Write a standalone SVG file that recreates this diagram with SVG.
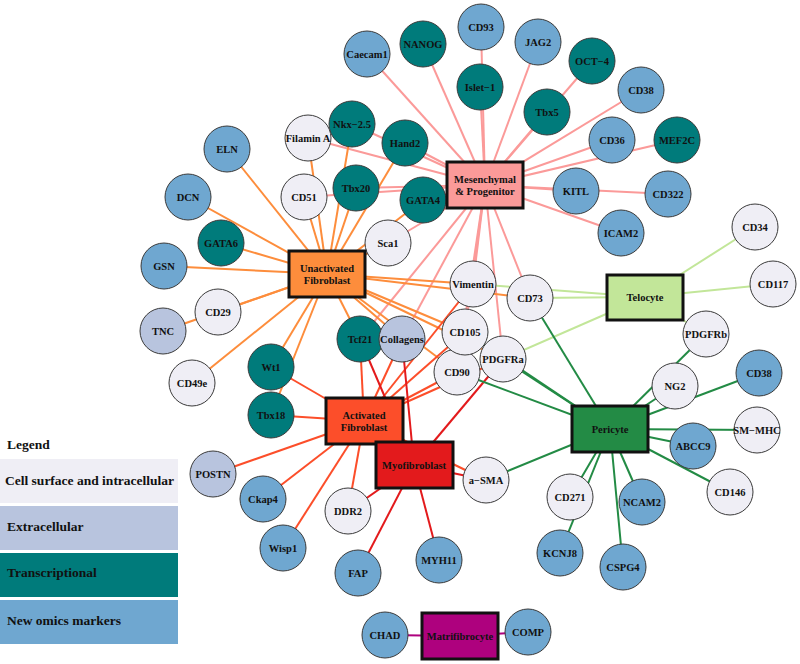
<svg xmlns="http://www.w3.org/2000/svg" width="800" height="664" viewBox="0 0 800 664">
<style>
.e{stroke-width:2;fill:none}
.em{stroke:#fb9a99}.eu{stroke:#fd8d3c}.ea{stroke:#fc4e2a}.ey{stroke:#e31a1c}.et{stroke:#c2e699}.ep{stroke:#238b45}.ex{stroke:#ae017e}
circle{stroke:#3a3a3a;stroke-width:1}
.c{fill:#efeef5}.x{fill:#b8c4de}.t{fill:#007b7b}.o{fill:#6fa7d0}
.b{stroke:#111;stroke-width:3}
text{font-family:"Liberation Serif","Times New Roman",serif;font-weight:bold;fill:#111;text-anchor:middle;dominant-baseline:central;font-size:10.5px}
.lg{text-anchor:start;font-size:13.5px;dominant-baseline:auto}
</style>
<rect width="800" height="664" fill="#fff"/>
<g id="connectors">
<g class="e em">
<line x1="485" y1="185" x2="367" y2="54"/><line x1="485" y1="185" x2="423" y2="44"/><line x1="485" y1="185" x2="481" y2="27"/><line x1="485" y1="185" x2="480" y2="87"/><line x1="485" y1="185" x2="538" y2="42"/><line x1="485" y1="185" x2="592" y2="61"/><line x1="485" y1="185" x2="547" y2="112"/><line x1="485" y1="185" x2="641" y2="90"/><line x1="485" y1="185" x2="612" y2="140"/><line x1="485" y1="185" x2="677" y2="140"/><line x1="485" y1="185" x2="576" y2="191"/><line x1="485" y1="185" x2="668" y2="194"/><line x1="485" y1="185" x2="621" y2="233"/><line x1="485" y1="185" x2="352" y2="124"/><line x1="485" y1="185" x2="405" y2="143"/><line x1="485" y1="185" x2="308" y2="138"/><line x1="485" y1="185" x2="304" y2="197"/><line x1="485" y1="185" x2="356" y2="188"/><line x1="485" y1="185" x2="423" y2="200"/><line x1="485" y1="185" x2="388" y2="243"/><line x1="485" y1="185" x2="473" y2="284"/><line x1="485" y1="185" x2="465" y2="332"/><line x1="485" y1="185" x2="457" y2="372"/><line x1="485" y1="185" x2="503" y2="359"/><line x1="485" y1="185" x2="530" y2="298"/><line x1="485" y1="185" x2="360" y2="339"/><line x1="485" y1="185" x2="402" y2="339"/>
</g>
<g class="e eu">
<line x1="327" y1="274" x2="227" y2="149"/><line x1="327" y1="274" x2="188" y2="197"/><line x1="327" y1="274" x2="221" y2="243"/><line x1="327" y1="274" x2="164" y2="266"/><line x1="327" y1="274" x2="218" y2="312"/><line x1="327" y1="274" x2="163" y2="331"/><line x1="327" y1="274" x2="192" y2="383"/><line x1="327" y1="274" x2="308" y2="138"/><line x1="327" y1="274" x2="304" y2="197"/><line x1="327" y1="274" x2="352" y2="124"/><line x1="327" y1="274" x2="405" y2="143"/><line x1="327" y1="274" x2="356" y2="188"/><line x1="327" y1="274" x2="423" y2="200"/><line x1="327" y1="274" x2="388" y2="243"/><line x1="327" y1="274" x2="473" y2="284"/><line x1="327" y1="274" x2="530" y2="298"/><line x1="327" y1="274" x2="465" y2="332"/><line x1="327" y1="274" x2="503" y2="359"/><line x1="327" y1="274" x2="457" y2="372"/><line x1="327" y1="274" x2="360" y2="339"/><line x1="327" y1="274" x2="402" y2="339"/><line x1="327" y1="274" x2="271" y2="367"/><line x1="327" y1="274" x2="271" y2="415"/>
</g>
<g class="e ea">
<line x1="364" y1="421" x2="271" y2="367"/><line x1="364" y1="421" x2="271" y2="415"/><line x1="364" y1="421" x2="213" y2="474"/><line x1="364" y1="421" x2="263" y2="499"/><line x1="364" y1="421" x2="283" y2="548"/><line x1="364" y1="421" x2="348" y2="511"/><line x1="364" y1="421" x2="360" y2="339"/><line x1="364" y1="421" x2="402" y2="339"/><line x1="364" y1="421" x2="473" y2="284"/><line x1="364" y1="421" x2="465" y2="332"/><line x1="364" y1="421" x2="457" y2="372"/><line x1="364" y1="421" x2="503" y2="359"/><line x1="364" y1="421" x2="486" y2="480"/>
</g>
<g class="e ey">
<line x1="414" y1="465" x2="360" y2="339"/><line x1="414" y1="465" x2="402" y2="339"/><line x1="414" y1="465" x2="503" y2="359"/><line x1="414" y1="465" x2="486" y2="480"/><line x1="414" y1="465" x2="348" y2="511"/><line x1="414" y1="465" x2="358" y2="573"/><line x1="414" y1="465" x2="439" y2="560"/>
</g>
<g class="e et">
<line x1="645" y1="297" x2="755" y2="227"/><line x1="645" y1="297" x2="773" y2="284"/><line x1="645" y1="297" x2="530" y2="298"/><line x1="645" y1="297" x2="473" y2="284"/><line x1="645" y1="297" x2="503" y2="359"/><line x1="645" y1="297" x2="706" y2="334"/>
</g>
<g class="e ep">
<line x1="610" y1="429" x2="530" y2="298"/><line x1="610" y1="429" x2="503" y2="359"/><line x1="610" y1="429" x2="465" y2="332"/><line x1="610" y1="429" x2="457" y2="372"/><line x1="610" y1="429" x2="486" y2="480"/><line x1="610" y1="429" x2="675" y2="386"/><line x1="610" y1="429" x2="706" y2="334"/><line x1="610" y1="429" x2="759" y2="373"/><line x1="610" y1="429" x2="757" y2="430"/><line x1="610" y1="429" x2="693" y2="446"/><line x1="610" y1="429" x2="730" y2="492"/><line x1="610" y1="429" x2="570" y2="497"/><line x1="610" y1="429" x2="560" y2="553"/><line x1="610" y1="429" x2="642" y2="502"/><line x1="610" y1="429" x2="623" y2="567"/>
</g>
<g class="e ex">
<line x1="460" y1="636" x2="385" y2="635"/><line x1="460" y1="636" x2="528" y2="632"/>
</g>
</g>
<g id="nodes">
<g id="n_caecam1"><circle class="o" cx="367" cy="54" r="23"/><text x="367" y="54">Caecam1</text></g>
<g id="n_nanog"><circle class="t" cx="423" cy="44" r="23"/><text x="423" y="44">NANOG</text></g>
<g id="n_cd93"><circle class="o" cx="481" cy="27" r="23"/><text x="481" y="27">CD93</text></g>
<g id="n_jag2"><circle class="o" cx="538" cy="42" r="23"/><text x="538" y="42">JAG2</text></g>
<g id="n_oct4"><circle class="t" cx="592" cy="61" r="23"/><text x="592" y="61">OCT−4</text></g>
<g id="n_islet1"><circle class="t" cx="480" cy="87" r="23"/><text x="480" y="87">Islet−1</text></g>
<g id="n_tbx5"><circle class="t" cx="547" cy="112" r="23"/><text x="547" y="112">Tbx5</text></g>
<g id="n_cd38a"><circle class="o" cx="641" cy="90" r="23"/><text x="641" y="90">CD38</text></g>
<g id="n_nkx"><circle class="t" cx="352" cy="124" r="23"/><text x="352" y="124">Nkx−2.5</text></g>
<g id="n_hand2"><circle class="t" cx="405" cy="143" r="23"/><text x="405" y="143">Hand2</text></g>
<g id="n_cd36"><circle class="o" cx="612" cy="140" r="23"/><text x="612" y="140">CD36</text></g>
<g id="n_mef2c"><circle class="t" cx="677" cy="140" r="23"/><text x="677" y="140">MEF2C</text></g>
<g id="n_kitl"><circle class="o" cx="576" cy="191" r="23"/><text x="576" y="191">KITL</text></g>
<g id="n_cd322"><circle class="o" cx="668" cy="194" r="23"/><text x="668" y="194">CD322</text></g>
<g id="n_icam2"><circle class="o" cx="621" cy="233" r="23"/><text x="621" y="233">ICAM2</text></g>
<g id="n_filamin"><circle class="c" cx="308" cy="138" r="23"/><text x="308" y="138">Filamin A</text></g>
<g id="n_eln"><circle class="o" cx="227" cy="149" r="23"/><text x="227" y="149">ELN</text></g>
<g id="n_dcn"><circle class="o" cx="188" cy="197" r="23"/><text x="188" y="197">DCN</text></g>
<g id="n_cd51"><circle class="c" cx="304" cy="197" r="23"/><text x="304" y="197">CD51</text></g>
<g id="n_tbx20"><circle class="t" cx="356" cy="188" r="23"/><text x="356" y="188">Tbx20</text></g>
<g id="n_gata4"><circle class="t" cx="423" cy="200" r="23"/><text x="423" y="200">GATA4</text></g>
<g id="n_sca1"><circle class="c" cx="388" cy="243" r="23"/><text x="388" y="243">Sca1</text></g>
<g id="n_gata6"><circle class="t" cx="221" cy="243" r="23"/><text x="221" y="243">GATA6</text></g>
<g id="n_gsn"><circle class="o" cx="164" cy="266" r="23"/><text x="164" y="266">GSN</text></g>
<g id="n_cd29"><circle class="c" cx="218" cy="312" r="23"/><text x="218" y="312">CD29</text></g>
<g id="n_tnc"><circle class="x" cx="163" cy="331" r="23"/><text x="163" y="331">TNC</text></g>
<g id="n_cd49e"><circle class="c" cx="192" cy="383" r="23"/><text x="192" y="383">CD49e</text></g>
<g id="n_wt1"><circle class="t" cx="271" cy="367" r="23"/><text x="271" y="367">Wt1</text></g>
<g id="n_tbx18"><circle class="t" cx="271" cy="415" r="23"/><text x="271" y="415">Tbx18</text></g>
<g id="n_tcf21"><circle class="t" cx="360" cy="339" r="23"/><text x="360" y="339">Tcf21</text></g>
<g id="n_collagens"><circle class="x" cx="402" cy="339" r="23"/><text x="402" y="339">Collagens</text></g>
<g id="n_vimentin"><circle class="c" cx="473" cy="284" r="23"/><text x="473" y="284">Vimentin</text></g>
<g id="n_cd73"><circle class="c" cx="530" cy="298" r="23"/><text x="530" y="298">CD73</text></g>
<g id="n_cd90"><circle class="c" cx="457" cy="372" r="23"/><text x="457" y="372">CD90</text></g>
<g id="n_cd105"><circle class="c" cx="465" cy="332" r="23"/><text x="465" y="332">CD105</text></g>
<g id="n_pdgfra"><circle class="c" cx="503" cy="359" r="23"/><text x="503" y="359">PDGFRa</text></g>
<g id="n_cd34"><circle class="c" cx="755" cy="227" r="23"/><text x="755" y="227">CD34</text></g>
<g id="n_cd117"><circle class="c" cx="773" cy="284" r="23"/><text x="773" y="284">CD117</text></g>
<g id="n_pdgfrb"><circle class="c" cx="706" cy="334" r="23"/><text x="706" y="334">PDGFRb</text></g>
<g id="n_ng2"><circle class="c" cx="675" cy="386" r="23"/><text x="675" y="386">NG2</text></g>
<g id="n_cd38b"><circle class="o" cx="759" cy="373" r="23"/><text x="759" y="373">CD38</text></g>
<g id="n_smmhc"><circle class="c" cx="757" cy="430" r="23"/><text x="757" y="430">SM−MHC</text></g>
<g id="n_abcc9"><circle class="o" cx="693" cy="446" r="23"/><text x="693" y="446">ABCC9</text></g>
<g id="n_cd146"><circle class="c" cx="730" cy="492" r="23"/><text x="730" y="492">CD146</text></g>
<g id="n_cd271"><circle class="c" cx="570" cy="497" r="23"/><text x="570" y="497">CD271</text></g>
<g id="n_ncam2"><circle class="o" cx="642" cy="502" r="23"/><text x="642" y="502">NCAM2</text></g>
<g id="n_kcnj8"><circle class="o" cx="560" cy="553" r="23"/><text x="560" y="553">KCNJ8</text></g>
<g id="n_cspg4"><circle class="o" cx="623" cy="567" r="23"/><text x="623" y="567">CSPG4</text></g>
<g id="n_postn"><circle class="x" cx="213" cy="474" r="23"/><text x="213" y="474">POSTN</text></g>
<g id="n_ckap4"><circle class="o" cx="263" cy="499" r="23"/><text x="263" y="499">Ckap4</text></g>
<g id="n_ddr2"><circle class="c" cx="348" cy="511" r="23"/><text x="348" y="511">DDR2</text></g>
<g id="n_wisp1"><circle class="o" cx="283" cy="548" r="23"/><text x="283" y="548">Wisp1</text></g>
<g id="n_fap"><circle class="o" cx="358" cy="573" r="23"/><text x="358" y="573">FAP</text></g>
<g id="n_myh11"><circle class="o" cx="439" cy="560" r="23"/><text x="439" y="560">MYH11</text></g>
<g id="n_asma"><circle class="c" cx="486" cy="480" r="23"/><text x="486" y="480">a−SMA</text></g>
<g id="n_chad"><circle class="o" cx="385" cy="635" r="23"/><text x="385" y="635">CHAD</text></g>
<g id="n_comp"><circle class="o" cx="528" cy="632" r="23"/><text x="528" y="632">COMP</text></g>
<g id="b_mesenchymal"><rect class="b" x="447" y="162" width="76" height="46" fill="#fb9a99"/><text x="485" y="179">Mesenchymal</text><text x="485" y="191">&amp; Progenitor</text></g>
<g id="b_unactivated"><rect class="b" x="289" y="251" width="76" height="46" fill="#fd8d3c"/><text x="327" y="268">Unactivated</text><text x="327" y="280">Fibroblast</text></g>
<g id="b_activated"><rect class="b" x="326" y="398" width="77" height="46" fill="#fc4e2a"/><text x="364" y="415">Activated</text><text x="364" y="427">Fibroblast</text></g>
<g id="b_myofibroblast"><rect class="b" x="376" y="442" width="77" height="46" fill="#e31a1c"/><text x="414" y="465">Myofibroblast</text></g>
<g id="b_telocyte"><rect class="b" x="607" y="275" width="76" height="45" fill="#c2e699"/><text x="645" y="297">Telocyte</text></g>
<g id="b_pericyte"><rect class="b" x="572" y="406" width="76" height="46" fill="#238b45"/><text x="610" y="429">Pericyte</text></g>
<g id="b_matrifibrocyte"><rect class="b" x="422" y="613" width="76" height="46" fill="#ae017e"/><text x="460" y="636">Matrifibrocyte</text></g>
</g>
<g id="legend">
<text class="lg" x="7" y="449">Legend</text>
<rect x="0" y="459" width="178" height="44" fill="#efeef5"/>
<rect x="0" y="506" width="178" height="44" fill="#b8c4de"/>
<rect x="0" y="553" width="178" height="44" fill="#007b7b"/>
<rect x="0" y="600" width="178" height="44" fill="#6fa7d0"/>
<text class="lg" x="5" y="485">Cell surface and intracellular</text>
<text class="lg" x="7" y="531">Extracellular</text>
<text class="lg" x="7" y="577">Transcriptional</text>
<text class="lg" x="7" y="625">New omics markers</text>
</g>
</svg>
